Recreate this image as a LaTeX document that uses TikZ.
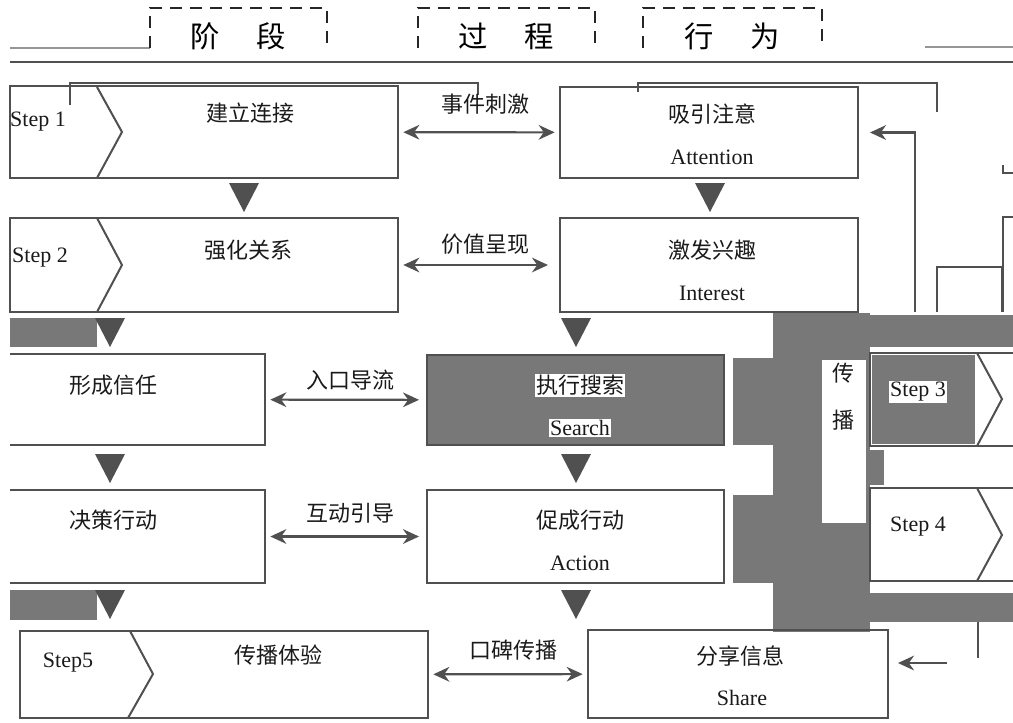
\documentclass[tikz,border=0pt]{standalone}
\usepackage{fontspec}
\setmainfont{Liberation Serif}
\newfontfamily\cjk{Noto Sans CJK SC}
\usetikzlibrary{arrows.meta}
\definecolor{linec}{HTML}{505050}
\definecolor{noise}{HTML}{787878}
\definecolor{txt}{HTML}{1A1A1A}
\newcommand{\rectnode}[6]{\node[#6,minimum width={(#4-#2)*0.75pt},minimum height={(#5-#3)*0.75pt}] (#1) at ({(#2+#4)/2},{(#3+#5)/2}) {};}
\begin{document}
\begin{tikzpicture}[x=0.75pt,y=-0.75pt,
  boxst/.style={draw=linec,line width=1.7pt,inner sep=0pt,outer sep=0pt},
  frame/.style={inner sep=0pt,outer sep=0pt},
  grayboxst/.style={boxst,fill=noise},
  sides/.style={draw=linec,line width=1.7pt},
  cn/.style={font=\cjk\fontsize{16.5}{18}\selectfont,text=txt,inner sep=1pt},
  en/.style={font=\fontsize{16.5}{18}\selectfont,text=txt,inner sep=1pt},
  hd/.style={font=\cjk\fontsize{22}{24}\selectfont,text=black,inner sep=1pt},
  dashbox/.style={draw=black!85,dash pattern=on 9pt off 6pt,line width=1.2pt},
  dbl/.style={{Stealth[length=12pt,width=11pt]}-{Stealth[length=12pt,width=11pt]},draw=linec,line width=1.6pt,shorten <=4pt,shorten >=4pt},
  arr/.style={-{Stealth[length=12pt,width=11pt]},draw=linec,line width=1.6pt},
  noisefill/.style={fill=noise},
  chev/.style={draw=linec,line width=1.5pt},
  frag/.style={draw=linec,line width=1.5pt},
  tric/.style={fill=linec},
  dtri/.pic={\fill[tric] (-15,-14) -- (15,-14) -- (0,15) -- cycle;},
]
\useasboundingbox (0,0) rectangle (1013,722);
\fill[white] (0,0) rectangle (1013,722);

% ---- gray blocks shown in the picture ----
\fill[noisefill] (773,313) rectangle (870,632);
\fill[white] (822,360) rectangle (866,523);
\fill[noisefill] (870,315) rectangle (1013,347);
\fill[noisefill] (870,593) rectangle (1013,622);
\fill[noisefill] (870,450) rectangle (884,485);
\fill[noisefill] (733,358) rectangle (773,445);
\fill[noisefill] (733,495) rectangle (773,583);
\fill[noisefill] (10,318) rectangle (97,347);
\fill[noisefill] (10,590) rectangle (97,620);
\fill[noisefill] (872,355) rectangle (975,444);

% ---- header ----
\draw[frag] (10,62) -- (1013,62);
\draw[frag,line width=0.8pt,draw=linec!60] (10,48) -- (150,48);
\draw[frag,line width=0.8pt,draw=linec!60] (925,47) -- (1013,47);
\rectnode{hb1}{150}{8}{327}{48}{frame}
\rectnode{hb2}{418}{8}{595}{48}{frame}
\rectnode{hb3}{643}{8}{822}{48}{frame}
\draw[dashbox] (hb1.south west) -- (hb1.north west) -- (hb1.north east) -- (hb1.south east);
\draw[dashbox] (hb2.south west) -- (hb2.north west) -- (hb2.north east) -- (hb2.south east);
\draw[dashbox] (hb3.south west) -- (hb3.north west) -- (hb3.north east) -- (hb3.south east);
\node[hd] (ht1) at (238,36) {阶\hspace{28pt}段};
\node[hd] (ht2) at (506,36) {过\hspace{28pt}程};
\node[hd] (ht3) at (732,36) {行\hspace{28pt}为};

% fragments of frame lines
\draw[frag] (70,105) -- (70,83) -- (478,83) -- (478,95);
\draw[frag] (638,92) -- (638,83) -- (937,83) -- (937,112);
\draw[frag] (1013,217) -- (1003,217) -- (1003,312);
\draw[frag] (1003,165) -- (1003,173) -- (1013,173);
\draw[frag] (937,312) -- (937,267) -- (1002,267) -- (1002,312);

% ---- stage boxes ----
\rectnode{s1}{10}{86}{398}{178}{boxst}
\rectnode{s2}{10}{218}{398}{312}{boxst}
\rectnode{s3}{10}{354}{265}{445}{frame}
\rectnode{s4}{10}{490}{265}{583}{frame}
\rectnode{s5}{20}{631}{428}{718}{boxst}
\draw[sides] (s3.north west) -- (s3.north east) -- (s3.south east) -- (s3.south west);
\draw[sides] (s4.north west) -- (s4.north east) -- (s4.south east) -- (s4.south west);

% ---- behaviour boxes ----
\rectnode{b1}{560}{87}{858}{178}{boxst}
\rectnode{b2}{560}{218}{858}{312}{boxst}
\rectnode{b3}{427}{355}{724}{445}{grayboxst}
\rectnode{b4}{427}{490}{724}{583}{boxst}
\rectnode{b5}{588}{630}{888}{718}{boxst}

% ---- step boxes on the right ----
\rectnode{p3}{870}{353}{1013}{446}{frame}
\rectnode{p4}{870}{488}{1013}{581}{frame}
\draw[sides] (p3.north east) -- (p3.north west) -- (p3.south west) -- (p3.south east);
\draw[sides] (p4.north east) -- (p4.north west) -- (p4.south west) -- (p4.south east);

% ---- chevrons ----
\draw[chev] (97,87) -- (122,132) -- (97,178);
\draw[chev] (97,218) -- (122,265) -- (97,312);
\draw[chev] (130,631) -- (153,674) -- (128,718);
\draw[chev] (977,353) -- (1002,399) -- (977,446);
\draw[chev] (977,488) -- (1002,535) -- (977,581);

% ---- texts ----
\node[en] (st1) at (38,122) {Step 1};
\node[en] (st2) at (40,258) {Step 2};
\node[en,fill=white] (st3) at (918,392) {Step 3};
\node[en] (st4) at (918,527) {Step 4};
\node[en] (st5) at (68,663) {Step5};

\node[cn] (l1) at (250,113) {建立连接};
\node[cn] (l2) at (248,250) {强化关系};
\node[cn] (l3) at (113,385) {形成信任};
\node[cn] (l4) at (113,520) {决策行动};
\node[cn] (l5) at (278,655) {传播体验};

\node[cn] (r1) at (712,114) {吸引注意};
\node[en] (e1) at (712,157) {Attention};
\node[cn] (r2) at (712,250) {激发兴趣};
\node[en] (e2) at (712,293) {Interest};
\node[cn,fill=white] (r3) at (580,385) {执行搜索};
\node[en,fill=white] (e3) at (580,428) {Search};
\node[cn] (r4) at (580,520) {促成行动};
\node[en] (e4) at (580,563) {Action};
\node[cn] (r5) at (740,656) {分享信息};
\node[en] (e5) at (742,698) {Share};

\node[cn] (c1) at (843,373) {传};
\node[cn] (c2) at (843,420) {播};

% ---- middle connectors ----
\draw[dbl] (s1) -- (b1);
\draw[dbl,shorten >=9pt] (s2) -- (b2);
\draw[dbl,shorten >=6pt] (s3) -- (b3);
\draw[dbl,shorten >=6pt] (s4) -- (b4);
\draw[dbl] (s5) -- (b5);
\node[cn] (a1) at (485,104) {事件刺激};
\node[cn] (a2) at (485,244) {价值呈现};
\node[cn] (a3) at (350,380) {入口导流};
\node[cn] (a4) at (350,513) {互动引导};
\node[cn] (a5) at (513,650) {口碑传播};

% ---- down triangles ----
\pic at (244,197) {dtri};
\pic at (710,197) {dtri};
\pic at (110,332) {dtri};
\pic at (576,332) {dtri};
\pic at (110,468) {dtri};
\pic at (576,468) {dtri};
\pic at (110,604) {dtri};
\pic at (576,604) {dtri};

% ---- feedback connectors ----
\coordinate (lp1) at (915,312);
\draw[arr,shorten >=9pt] (lp1) |- (b1.east);
\coordinate (lp2) at (947,663);
\draw[arr,shorten >=7.5pt] (lp2) -- (lp2 -| b5.east);
\draw[frag] (978,622) -- (978,658);
\end{tikzpicture}
\end{document}
